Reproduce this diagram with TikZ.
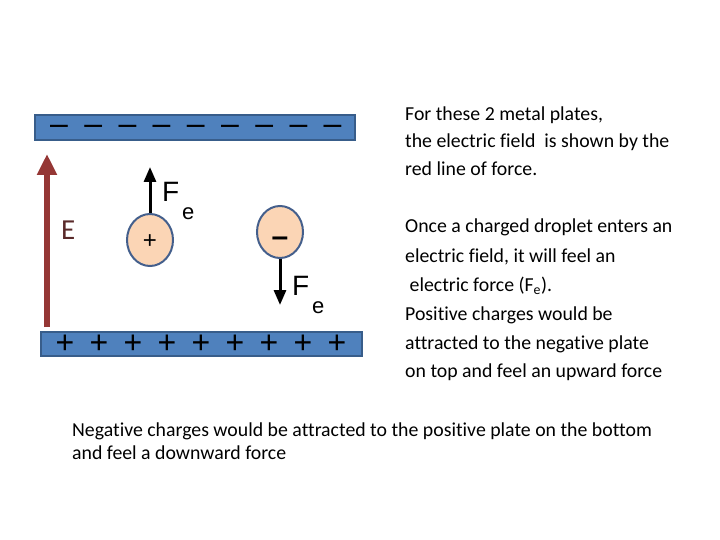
\documentclass[tikz,border=0pt]{standalone}
\usepackage{fontspec}
\setmainfont[Ligatures=NoCommon]{Carlito}
\newfontfamily\arialf{Liberation Sans}
\usetikzlibrary{arrows.meta,shapes.geometric}
\definecolor{plateblue}{HTML}{4F81BD}
\definecolor{plateedge}{HTML}{385D8A}
\definecolor{fieldred}{HTML}{953735}
\definecolor{elabel}{HTML}{5A2A2A}
\definecolor{droppeach}{HTML}{FBD5B5}
\definecolor{dropedge}{HTML}{445F8C}
\begin{document}
\begin{tikzpicture}[x=1pt,y=-1pt,
  plate/.style={fill=plateblue,draw=plateedge,line width=2pt},
  sign/.style={font=\arialf\fontsize{32}{32}\selectfont,inner sep=0pt},
  drop/.style={ellipse,fill=droppeach,draw=dropedge,line width=2pt,minimum width=46pt,minimum height=52pt,inner sep=0pt},
  forcearrow/.style={line width=3pt,-{Triangle[length=15pt,width=12pt]}},
  flabel/.style={font=\arialf\fontsize{28}{28}\selectfont,inner sep=0pt,anchor=base west},
  txt/.style={font=\fontsize{19.8}{22}\selectfont,inner sep=0pt,anchor=base west}
]
\useasboundingbox (0,0) rectangle (720,540);
% plates
\draw[plate] (35,115) rectangle (355,140);
\draw[plate] (41,332) rectangle (362,356);
\foreach \i in {0,...,8}{
  \node[sign] (m\i) at ({59+34.2*\i},130) {–};
  \node[sign] (p\i) at ({65+34*\i},344) {+};
}
% field
\coordinate (ebot) at (47,327);
\coordinate (etop) at (47,154);
\draw[fieldred,line width=6pt,-{Triangle[length=21pt,width=19pt]}] (ebot) -- (etop);
\node[font=\fontsize{29}{29}\selectfont,text=elabel,inner sep=0pt,anchor=base west] (E) at (61,240) {E};
% droplets
\node[drop] (pos) at (150,240) {};
\node[drop] (neg) at (280,232) {};
\node[inner sep=0pt,font=\arialf\fontsize{24}{24}\selectfont] (plus) at (150,242) {+};
\node[inner sep=0pt,font=\arialf\bfseries\fontsize{30}{30}\selectfont] (minus) at (280,242) {–};
\coordinate (fup) at (150,167);
\coordinate (fdown) at (280,305);
\draw[forcearrow] (pos.north) -- (fup);
\draw[forcearrow] (neg.south) -- (fdown);
\node[flabel] (F1) at (162,202) {F};
\node[font=\arialf\fontsize{22}{22}\selectfont,inner sep=0pt,anchor=base west] (e1) at (182,220) {e};
\node[flabel] (F2) at (292,295) {F};
\node[font=\arialf\fontsize{22}{22}\selectfont,inner sep=0pt,anchor=base west] (e2) at (312,313) {e};
% text
\node[txt] (t1) at (405,121) {For these 2 metal plates,};
\node[txt] (t2) at (405,148) {the electric field\ \ is shown by the};
\node[txt] (t3) at (405,176) {red line of force.};
\node[txt] (t4) at (405,233) {Once a charged droplet enters an};
\node[txt] (t5) at (405,262) {electric field, it will feel an};
\node[txt] (t6) at (405,291) {\ electric force (F\textsubscript{e}).};
\node[txt] (t7) at (405,320) {Positive charges would be};
\node[txt] (t8) at (405,349) {attracted to the negative plate};
\node[txt] (t9) at (405,377) {on top and feel an upward force};
\node[txt] (b1) at (72,436) {Negative charges would be attracted to the positive plate on the bottom};
\node[txt] (b2) at (72,459) {and feel a downward force};
\end{tikzpicture}
\end{document}
